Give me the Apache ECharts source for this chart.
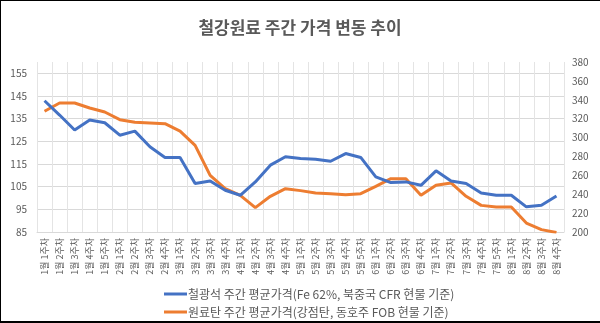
<!DOCTYPE html>
<html><head><meta charset="utf-8">
<script src="https://cdn.jsdelivr.net/npm/echarts@6/dist/echarts.min.js"></script>
<style>
html,body{margin:0;padding:0;background:#fff;}
#wrap{position:relative;width:600px;height:323px;overflow:hidden;}
#chart{width:600px;height:323px;}
.b{position:absolute;background:#000;}
</style></head>
<body>
<div id="wrap">
<div id="chart"></div>
<div class="b" style="left:0;top:0;width:600px;height:1px"></div>
<div class="b" style="left:0;top:0;width:1px;height:323px"></div>
<div class="b" style="left:0;top:321px;width:600px;height:2px"></div>
</div>
<script>
const categories = [
 '1월 1주차','1월 2주차','1월 3주차','1월 4주차','1월 5주차',
 '2월 1주차','2월 2주차','2월 3주차','2월 4주차',
 '3월 1주차','3월 2주차','3월 3주차','3월 4주차',
 '4월 1주차','4월 2주차','4월 3주차','4월 4주차',
 '5월 1주차','5월 2주차','5월 3주차','5월 4주차','5월 5주차',
 '6월 1주차','6월 2주차','6월 3주차','6월 4주차',
 '7월 1주차','7월 2주차','7월 3주차','7월 4주차','7월 5주차',
 '8월 1주차','8월 2주차','8월 3주차','8월 4주차'
];
const ironOre = [142.9,136.6,130.0,134.4,133.2,127.7,129.5,122.6,117.9,117.9,106.4,107.5,103.4,101.2,107.1,114.5,118.2,117.4,117.1,116.2,119.6,117.9,109.3,106.8,107.1,105.6,112.0,107.5,106.4,102.2,101.2,101.2,96.1,96.8,100.9];
const coal = [327.8,336.6,336.6,331.3,327.1,318.9,316.1,315.4,314.7,306.9,291.8,260.0,245.9,238.8,225.8,237.8,245.9,243.8,241.3,240.6,239.5,240.6,248.4,256.5,256.5,238.8,249.4,251.9,237.8,228.2,226.5,226.5,209.5,202.5,199.5];
const seriesNames = ['철광석 주간 평균가격(Fe 62%, 북중국 CFR 현물 기준)','원료탄 주간 평균가격(강점탄, 동호주 FOB 현물 기준)'];
const titleText = '철강원료 주간 가격 변동 추이';

const chart = echarts.init(document.getElementById('chart'), null, {renderer:'canvas'});
const font = '"Noto Sans CJK KR", "Noto Sans", sans-serif';
const grey = '#595959';
const gridCol = '#d9d9d9';
chart.setOption({
  animation:false,
  backgroundColor:'#fff',
  textStyle:{fontFamily:font},
  title:{text:titleText,left:'center',top:14,textStyle:{fontSize:17,fontWeight:'bold',color:grey,fontFamily:font}},
  grid:{left:37,right:36,top:62,bottom:91,containLabel:false},
  legend:{orient:'vertical',left:164,top:288,height:60,padding:0,itemWidth:23,itemHeight:3,itemGap:6,icon:'rect',
    textStyle:{fontSize:12,color:grey,fontFamily:font,padding:[0,0,0,-4]},data:seriesNames},
  xAxis:{type:'category',data:categories,boundaryGap:true,
    axisLine:{lineStyle:{color:gridCol}},axisTick:{show:false},
    axisLabel:{rotate:90,fontSize:9,color:grey,interval:0,margin:6,fontFamily:font},
    splitLine:{show:true,interval:0,lineStyle:{color:'#e4e4e4',width:1}}},
  yAxis:[
    {type:'value',min:85,max:160,interval:10,position:'left',
     axisLine:{show:false},axisTick:{show:false},
     axisLabel:{fontSize:10,color:grey,margin:10,showMaxLabel:false,fontFamily:font},
     splitLine:{show:true,lineStyle:{color:[gridCol,gridCol,gridCol,gridCol,gridCol,gridCol,gridCol,gridCol,'rgba(0,0,0,0)'],width:1}}},
    {type:'value',min:200,max:380,interval:20,position:'right',
     axisLine:{show:false},axisTick:{show:false},
     axisLabel:{fontSize:10,color:grey,margin:8,fontFamily:font},
     splitLine:{show:false}}
  ],
  series:[
    {name:seriesNames[0],type:'line',yAxisIndex:0,data:ironOre,symbol:'none',
     lineStyle:{width:3,color:'#4472C4'},itemStyle:{color:'#4472C4'},z:3},
    {name:seriesNames[1],type:'line',yAxisIndex:1,data:coal,symbol:'none',
     lineStyle:{width:3,color:'#ED7D31'},itemStyle:{color:'#ED7D31'},z:2}
  ]
});
</script>
</body></html>
